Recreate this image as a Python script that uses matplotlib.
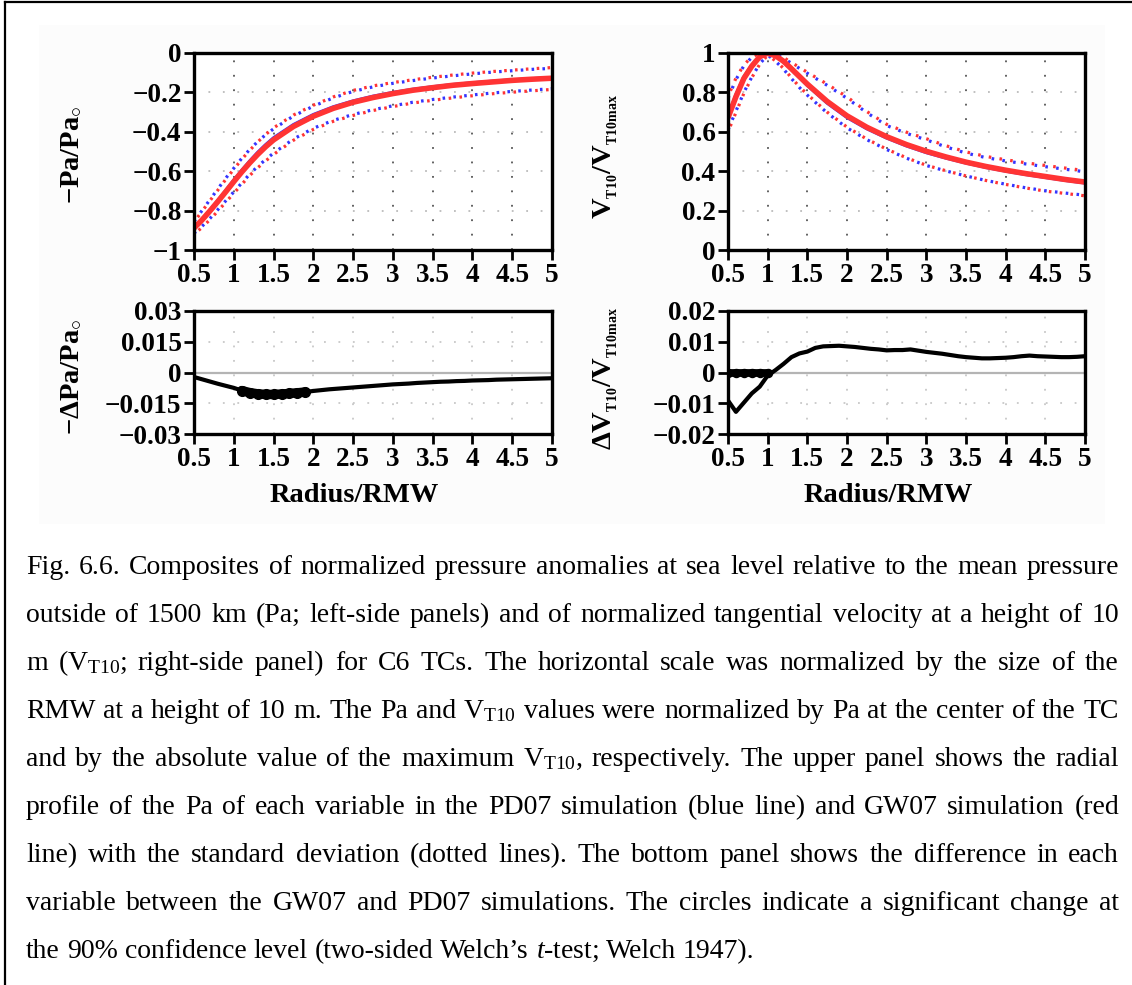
import matplotlib
matplotlib.use("Agg")
import matplotlib.pyplot as plt
from matplotlib.lines import Line2D
from matplotlib.patches import Rectangle

# ---------------------------------------------------------------- data
radius = [0.5, 0.6, 0.7, 0.8, 0.9, 1.0, 1.1, 1.2, 1.3, 1.4, 1.5, 1.75, 2.0,
          2.25, 2.5, 2.75, 3.0, 3.25, 3.5, 3.75, 4.0, 4.25, 4.5, 4.75, 5.0]

# normalized sea-level pressure anomaly (-Pa/Pa0)
pa_pd07 = [-0.887, -0.845, -0.798, -0.748, -0.697, -0.645, -0.595, -0.548, -0.504,
           -0.465, -0.430, -0.363, -0.312, -0.273, -0.243, -0.219, -0.200, -0.184,
           -0.171, -0.160, -0.151, -0.143, -0.136, -0.130, -0.125]
pa_gw07 = [-0.889, -0.848, -0.802, -0.754, -0.704, -0.653, -0.604, -0.558, -0.515,
           -0.476, -0.441, -0.373, -0.321, -0.281, -0.250, -0.226, -0.206, -0.189,
           -0.176, -0.164, -0.155, -0.147, -0.139, -0.133, -0.128]
pa_pd07_hi = [-0.855, -0.800, -0.745, -0.690, -0.635, -0.585, -0.535, -0.490, -0.450,
              -0.415, -0.385, -0.320, -0.270, -0.228, -0.195, -0.172, -0.154, -0.140,
              -0.127, -0.116, -0.106, -0.097, -0.090, -0.083, -0.078]
pa_gw07_hi = [-0.858, -0.804, -0.750, -0.696, -0.641, -0.590, -0.540, -0.494, -0.452,
              -0.414, -0.380, -0.315, -0.265, -0.223, -0.190, -0.167, -0.150, -0.136,
              -0.123, -0.112, -0.102, -0.094, -0.087, -0.080, -0.074]
pa_pd07_lo = [-0.915, -0.880, -0.840, -0.795, -0.750, -0.705, -0.660, -0.615, -0.576,
              -0.541, -0.508, -0.437, -0.382, -0.342, -0.312, -0.288, -0.268, -0.250,
              -0.236, -0.224, -0.213, -0.203, -0.195, -0.188, -0.181]
pa_gw07_lo = [-0.920, -0.886, -0.846, -0.802, -0.757, -0.712, -0.667, -0.622, -0.583,
              -0.548, -0.515, -0.443, -0.388, -0.347, -0.317, -0.292, -0.272, -0.254,
              -0.240, -0.228, -0.217, -0.207, -0.199, -0.192, -0.185]

# normalized 10-m tangential wind (VT10/VT10max)
v_pd07 = [0.680, 0.790, 0.880, 0.940, 0.985, 1.000, 0.985, 0.955, 0.915, 0.875,
          0.835, 0.745, 0.672, 0.615, 0.568, 0.528, 0.494, 0.466, 0.441, 0.419,
          0.400, 0.383, 0.368, 0.353, 0.340]
v_gw07 = [0.671, 0.778, 0.871, 0.933, 0.981, 0.999, 0.986, 0.958, 0.920, 0.881,
          0.842, 0.754, 0.681, 0.623, 0.575, 0.535, 0.501, 0.472, 0.446, 0.424,
          0.405, 0.388, 0.373, 0.358, 0.345]
v_pd07_hi = [0.770, 0.865, 0.935, 0.978, 0.998, 1.000, 0.993, 0.973, 0.948, 0.922,
             0.897, 0.836, 0.770, 0.697, 0.632, 0.592, 0.559, 0.523, 0.492, 0.469,
             0.452, 0.437, 0.423, 0.410, 0.397]
v_gw07_hi = [0.780, 0.872, 0.940, 0.980, 0.999, 1.000, 0.995, 0.977, 0.952, 0.927,
             0.902, 0.842, 0.777, 0.703, 0.638, 0.598, 0.565, 0.529, 0.498, 0.475,
             0.458, 0.443, 0.429, 0.416, 0.403]
v_pd07_lo = [0.610, 0.705, 0.800, 0.878, 0.945, 0.990, 0.958, 0.918, 0.870, 0.825,
             0.786, 0.696, 0.620, 0.560, 0.510, 0.466, 0.429, 0.401, 0.376, 0.353,
             0.334, 0.316, 0.301, 0.289, 0.278]
v_gw07_lo = [0.600, 0.698, 0.795, 0.875, 0.943, 0.989, 0.960, 0.922, 0.874, 0.829,
             0.790, 0.700, 0.624, 0.563, 0.512, 0.468, 0.430, 0.402, 0.376, 0.353,
             0.333, 0.315, 0.299, 0.287, 0.275]

# GW07 - PD07 differences on a 0.1 radius grid
radius_diff = [0.5, 0.6, 0.7, 0.8, 0.9, 1.0, 1.1, 1.2, 1.3, 1.4, 1.5, 1.6, 1.7, 1.8,
               1.9, 2.0, 2.1, 2.2, 2.3, 2.4, 2.5, 2.6, 2.7, 2.8, 2.9, 3.0, 3.1, 3.2,
               3.3, 3.4, 3.5, 3.6, 3.7, 3.8, 3.9, 4.0, 4.1, 4.2, 4.3, 4.4, 4.5, 4.6,
               4.7, 4.8, 4.9, 5.0]
dpa = [-0.0022, -0.0033, -0.0044, -0.0055, -0.0065, -0.0075, -0.0088, -0.0098,
       -0.0104, -0.0107, -0.0107, -0.0105, -0.0102, -0.0099, -0.0095, -0.0090,
       -0.0086, -0.0082, -0.0079, -0.0076, -0.0073, -0.0070, -0.0067, -0.0064,
       -0.0061, -0.0058, -0.0056, -0.0054, -0.0051, -0.0049, -0.0047, -0.0045,
       -0.0044, -0.0042, -0.0041, -0.0039, -0.0038, -0.0037, -0.0035, -0.0034,
       -0.0033, -0.0032, -0.0031, -0.0030, -0.0029, -0.0028]
dv = [-0.0091, -0.0128, -0.0098, -0.0068, -0.0046, -0.0010, 0.0008, 0.0028,
      0.0050, 0.0062, 0.0068, 0.0080, 0.0085, 0.0086, 0.0087, 0.0085, 0.0083,
      0.0080, 0.0077, 0.0075, 0.0072, 0.0073, 0.0073, 0.0075, 0.0071, 0.0067,
      0.0064, 0.0061, 0.0057, 0.0053, 0.0050, 0.0048, 0.0046, 0.0046, 0.0047,
      0.0048, 0.0050, 0.0053, 0.0055, 0.0053, 0.0052, 0.0051, 0.0050, 0.0050,
      0.0051, 0.0053]
# radii with a significant change at the 90 % level
sig_dpa_radius = [1.1, 1.2, 1.3, 1.4, 1.5, 1.6, 1.7, 1.8, 1.9]
sig_dv_radius = [0.5, 0.6, 0.7, 0.8, 0.9, 1.0]
sig_dv_level = [0, 0, 0, 0, 0, 0]

x_ticks = [0.5, 1, 1.5, 2, 2.5, 3, 3.5, 4, 4.5, 5]
x_ticklabels = ["0.5", "1", "1.5", "2", "2.5", "3", "3.5", "4", "4.5", "5"]
pa_ticks = [0, -0.2, -0.4, -0.6, -0.8, -1]
pa_ticklabels = ["0", "\u22120.2", "\u22120.4", "\u22120.6", "\u22120.8", "\u22121"]
v_ticks = [0, 0.2, 0.4, 0.6, 0.8, 1]
v_ticklabels = ["0", "0.2", "0.4", "0.6", "0.8", "1"]
dpa_ticks = [0.03, 0.015, 0, -0.015, -0.03]
dpa_ticklabels = ["0.03", "0.015", "0", "\u22120.015", "\u22120.03"]
dv_ticks = [0.02, 0.01, 0, -0.01, -0.02]
dv_ticklabels = ["0.02", "0.01", "0", "\u22120.01", "\u22120.02"]

caption_lines = [
    "Fig. 6.6. Composites of normalized pressure anomalies at sea level relative to the mean pressure",
    "outside of 1500 km (Pa; left-side panels) and of normalized tangential velocity at a height of 10",
    "m (V$_{\\mathrm{T10}}$; right-side panel) for C6 TCs. The horizontal scale was normalized by the size of the",
    "RMW at a height of 10 m. The Pa and V$_{\\mathrm{T10}}$ values were normalized by Pa at the center of the TC",
    "and by the absolute value of the maximum V$_{\\mathrm{T10}}$, respectively. The upper panel shows the radial",
    "profile of the Pa of each variable in the PD07 simulation (blue line) and GW07 simulation (red",
    "line) with the standard deviation (dotted lines). The bottom panel shows the difference in each",
    "variable between the GW07 and PD07 simulations. The circles indicate a significant change at",
    "the 90% confidence level (two-sided Welch\u2019s $\\mathit{t}$-test; Welch 1947).",
]

# ---------------------------------------------------------------- style
plt.rcParams["mathtext.fontset"] = "custom"
plt.rcParams["mathtext.rm"] = "Liberation Serif"
plt.rcParams["mathtext.it"] = "Liberation Serif:italic"
plt.rcParams["mathtext.bf"] = "Liberation Serif:bold"

W, H = 1132, 985
fig = plt.figure(figsize=(W / 100, H / 100), dpi=100)
fig.patch.set_facecolor("white")

BLUE = "#3434ff"
RED = "#ff3434"
TICK_FONT = dict(family="Liberation Serif", weight="bold", size=19.5)
LABEL_FONT = dict(family="Liberation Serif", weight="bold", size=20.5)


def px_to_fig(x0, y0, x1, y1):
    return [x0 / W, 1 - y1 / H, (x1 - x0) / W, (y1 - y0) / H]


# faint backdrop behind the plot block
fig.add_artist(Rectangle((39 / W, 1 - 524 / H), (1105 - 39) / W, (524 - 25) / H,
                         transform=fig.transFigure, facecolor="#fcfcfc",
                         edgecolor="none", zorder=-5))
# page frame (left and top rules)
fig.add_artist(Line2D([5 / W, 5 / W], [0, 1 - 2 / H], transform=fig.transFigure,
                      color="black", lw=1.6))
fig.add_artist(Line2D([5 / W, 1], [1 - 2 / H, 1 - 2 / H], transform=fig.transFigure,
                      color="black", lw=1.6))

ax_pa = fig.add_axes(px_to_fig(194, 53, 552, 250))
ax_v = fig.add_axes(px_to_fig(728, 53, 1085, 250))
ax_dpa = fig.add_axes(px_to_fig(194, 311, 552, 434))
ax_dv = fig.add_axes(px_to_fig(728, 311, 1085, 434))


def style_axes(ax, yticks, yticklabels, ylim, vgrid_color, hgrid_color):
    ax.set_facecolor("white")
    ax.set_xlim(0.5, 5)
    ax.set_ylim(*ylim)
    ax.set_xticks(x_ticks)
    ax.set_xticklabels(x_ticklabels, **TICK_FONT)
    ax.set_yticks(yticks)
    ax.set_yticklabels(yticklabels, **TICK_FONT)
    ax.tick_params(direction="out", length=7, width=2, pad=2, color="black")
    for s in ax.spines.values():
        s.set_linewidth(2.4)
        s.set_zorder(10)
    for xv in x_ticks[1:-1]:
        ax.axvline(xv, color=vgrid_color, lw=1.3, ls=(0, (1, 7)), zorder=0)
    for yv in yticks:
        if yv not in ylim:
            ax.axhline(yv, color=hgrid_color, lw=1.3, ls=(0, (1, 7)), zorder=0)


style_axes(ax_pa, pa_ticks, pa_ticklabels, (-1, 0), "#555555", "#bbbbbb")
style_axes(ax_v, v_ticks, v_ticklabels, (0, 1), "#555555", "#bbbbbb")
style_axes(ax_dpa, dpa_ticks, dpa_ticklabels, (-0.03, 0.03), "#c8c8c8", "#c8c8c8")
style_axes(ax_dv, dv_ticks, dv_ticklabels, (-0.02, 0.02), "#c8c8c8", "#c8c8c8")

dot_b = (0, (0.8, 2.6))
dot_r = (1.5, (0.8, 2.6))
for ax, pd_m, gw_m, pd_hi, gw_hi, pd_lo, gw_lo in [
        (ax_pa, pa_pd07, pa_gw07, pa_pd07_hi, pa_gw07_hi, pa_pd07_lo, pa_gw07_lo),
        (ax_v, v_pd07, v_gw07, v_pd07_hi, v_gw07_hi, v_pd07_lo, v_gw07_lo)]:
    ax.plot(radius, pd_hi, color=BLUE, lw=2.3, ls=dot_b, zorder=2)
    ax.plot(radius, pd_lo, color=BLUE, lw=2.3, ls=dot_b, zorder=2)
    ax.plot(radius, gw_hi, color=RED, lw=2.3, ls=dot_r, zorder=2)
    ax.plot(radius, gw_lo, color=RED, lw=2.3, ls=dot_r, zorder=2)
    ax.plot(radius, pd_m, color=BLUE, lw=2.2, zorder=3, solid_capstyle="butt")
    ax.plot(radius, gw_m, color=RED, lw=4.0, zorder=4, solid_capstyle="butt")

for ax in (ax_dpa, ax_dv):
    ax.axhline(0, color="#b4b4b4", lw=1.6, zorder=1)

# pressure difference with significant circles
ax_dpa.plot(radius_diff, dpa, color="black", lw=3.0, zorder=3)
sig_dpa_val = [dpa[radius_diff.index(r)] for r in sig_dpa_radius]
ax_dpa.plot(sig_dpa_radius, sig_dpa_val, color="black", lw=6.8,
            solid_capstyle="round", zorder=4)
ax_dpa.plot(sig_dpa_radius, sig_dpa_val, ls="none", marker="o", ms=7.0,
            color="black", zorder=4)

# wind difference with significant circles
ax_dv.plot(radius_diff, dv, color="black", lw=3.0, zorder=3)
ax_dv.plot(sig_dv_radius, sig_dv_level, color="black", lw=5.6,
           solid_capstyle="round", zorder=4)
ax_dv.plot(sig_dv_radius, sig_dv_level, ls="none", marker="o", ms=5.8,
           color="black", zorder=4)

# axis titles
fig.text(72 / W, 1 - 155 / H, "\u2212Pa/Pa$_{\\circ}$", rotation=90, ha="center",
         va="center", math_fontfamily="custom", **LABEL_FONT)
fig.text(72 / W, 1 - 377 / H, "\u2212\u0394Pa/Pa$_{\\circ}$", rotation=90,
         ha="center", va="center", math_fontfamily="custom", **LABEL_FONT)
fig.text(606 / W, 1 - 157 / H,
         "V$_{{}_{\\mathbf{T10}}}$/V$_{{}_{\\mathbf{T10max}}}$",
         rotation=90, ha="center", va="center", math_fontfamily="custom",
         **LABEL_FONT)
fig.text(606 / W, 1 - 379 / H,
         "\u0394V$_{{}_{\\mathbf{T10}}}$/V$_{{}_{\\mathbf{T10max}}}$",
         rotation=90, ha="center", va="center", math_fontfamily="custom",
         **LABEL_FONT)
for xc in (354, 888):
    fig.text(xc / W, 1 - 496 / H, "Radius/RMW", ha="center", va="center",
             **LABEL_FONT)

# ---------------------------------------------------------------- caption (justified)
fig.canvas.draw()
renderer = fig.canvas.get_renderer()
CAP_FAMILY = "Liberation Serif"
left_px, right_px = 26, 1119
line_w = right_px - left_px


def measure(s, size):
    t = fig.text(0, 0, s, family=CAP_FAMILY, size=size, math_fontfamily="custom")
    w = t.get_window_extent(renderer).width
    t.remove()
    return w


probe = 18.0
space_probe = measure("a a", probe) - measure("aa", probe)
# size chosen so that every full line fits with at least 70 % of a normal space
need = [sum(measure(w, probe) for w in ln.split(" ")) +
        0.7 * space_probe * (len(ln.split(" ")) - 1) for ln in caption_lines[:-1]]
cap_size = min(20.0, probe * line_w / max(need))

space_w = measure("a a", cap_size) - measure("aa", cap_size)
y_first = 574
line_gap = 48
for i, ln in enumerate(caption_lines):
    words = ln.split(" ")
    widths = [measure(w, cap_size) for w in words]
    if i < len(caption_lines) - 1:
        gap = (line_w - sum(widths)) / (len(words) - 1)
    else:
        gap = space_w
    x = left_px
    y = y_first + i * line_gap
    for w, wd in zip(words, widths):
        fig.text(x / W, 1 - y / H, w, family=CAP_FAMILY, size=cap_size,
                 ha="left", va="baseline", math_fontfamily="custom")
        x += wd + gap

fig.savefig("out.png", dpi=100, facecolor="white")
